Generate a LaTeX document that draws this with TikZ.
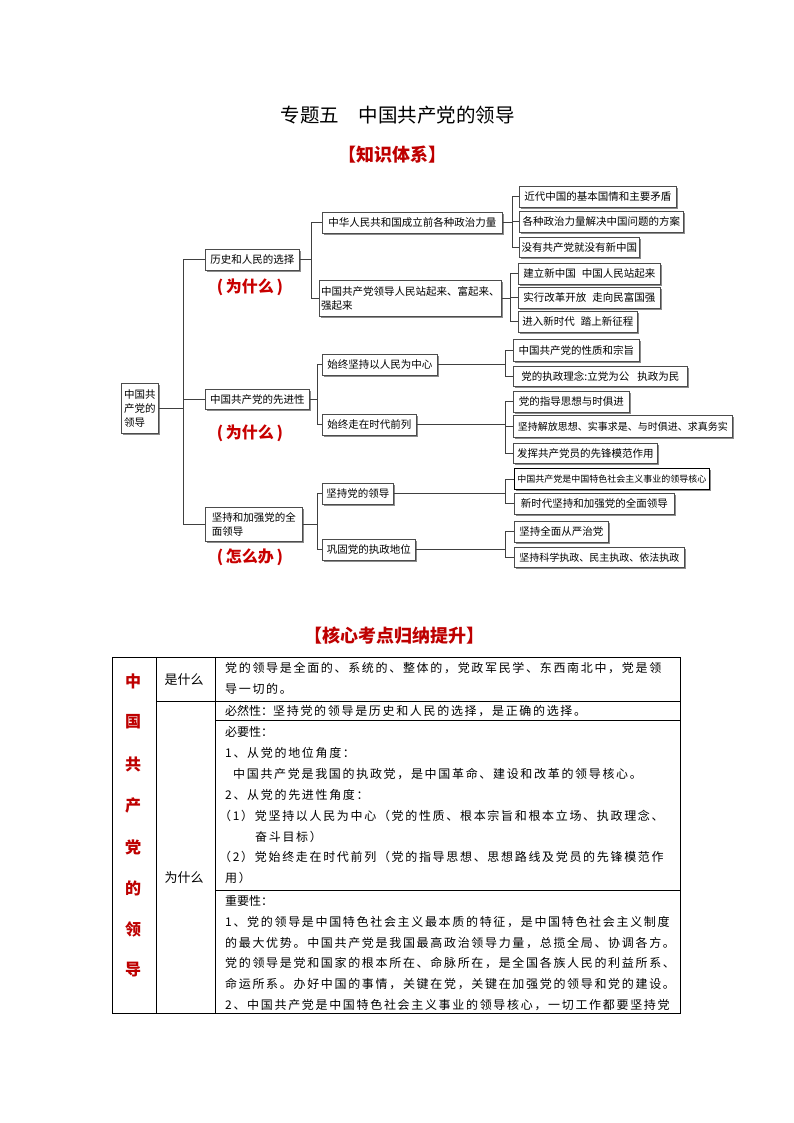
\documentclass[tikz,border=0pt]{standalone}
\usepackage{fontspec}
\usetikzlibrary{shadows}
\setmainfont{Noto Sans CJK SC}
\newfontfamily\cjk{Noto Sans CJK SC}
\newfontfamily\kai{Noto Sans CJK SC}[LetterSpace=14]
\definecolor{tred}{RGB}{200,0,0}
\definecolor{dred}{RGB}{190,0,0}
\newcommand\tf{\cjk\fontsize{10.5}{14}\selectfont}
\newcommand\lab[1]{{\cjk\fontsize{12}{21}\selectfont #1}}
\begin{document}
\begin{tikzpicture}[x=1pt,y=-1pt,
  box/.style={draw=black!70, line width=0.6pt, fill=white, inner sep=0pt, font=\tf,
    anchor=north west, drop shadow={shadow xshift=1.3pt, shadow yshift=-1.3pt, fill=black!45, opacity=1}},
  conn/.style={draw=black!75, line width=0.7pt},
  redq/.style={text=tred, font=\cjk\bfseries\fontsize{16}{18}\selectfont},
  hdr/.style={text=dred, font=\cjk\bfseries\fontsize{18}{20}\selectfont},
  tbl/.style={draw=black, line width=0.8pt},
  cell/.style={anchor=base west, inner sep=0pt, font=\kai\fontsize{12}{21}\selectfont},
  side/.style={text=dred, font=\cjk\bfseries\fontsize{16}{18}\selectfont}]
\useasboundingbox (0,0) rectangle (794,1123);
\fill[white] (0,0) rectangle (794,1123);

% titles
\node[font=\cjk\fontsize{19.5}{21}\selectfont] (title) at (397.5,115) {专题五\hspace{1em}中国共产党的领导};
\node[hdr] (h1) at (392,155) {【知识体系】};

% tree boxes
\node[box, minimum width=37pt, minimum height=50pt, align=left] (root) at (121,383) {中国共\\产党的\\领导};
\node[box, minimum width=94pt, minimum height=21pt] (A) at (205,249) {历史和人民的选择};
\node[box, minimum width=104pt, minimum height=20pt] (B) at (205,389) {中国共产党的先进性};
\node[box, minimum width=97pt, minimum height=34pt, align=left] (C) at (205,507) {坚持和加强党的全\\面领导};

\node[redq] (q1) at (250,287) {(\,为什么\,)};
\node[redq] (q2) at (250,433) {(\,为什么\,)};
\node[redq] (q3) at (250,557) {(\,怎么办\,)};

\node[box, minimum width=180pt, minimum height=21pt] (A1) at (322,212) {中华人民共和国成立前各种政治力量};
\node[box, minimum width=182pt, minimum height=36pt, align=left] (A2) at (319,280) {中国共产党领导人民站起来、富起来、\\强起来};
\node[box, minimum width=115pt, minimum height=21pt] (B1) at (322,354) {始终坚持以人民为中心};
\node[box, minimum width=94pt, minimum height=21pt] (B2) at (322,414) {始终走在时代前列};
\node[box, minimum width=71pt, minimum height=21pt] (C1) at (322,483) {坚持党的领导};
\node[box, minimum width=93pt, minimum height=21pt] (C2) at (322,539) {巩固党的执政地位};

\node[box, minimum width=157pt, minimum height=21pt] (A1a) at (519,186) {近代中国的基本国情和主要矛盾};
\node[box, minimum width=164pt, minimum height=21pt] (A1b) at (519,211) {各种政治力量解决中国问题的方案};
\node[box, minimum width=120pt, minimum height=20pt] (A1c) at (519,237) {没有共产党就没有新中国};
\node[box, minimum width=142pt, minimum height=21pt] (A2a) at (518,263) {建立新中国\hspace{6pt}中国人民站起来};
\node[box, minimum width=142pt, minimum height=21pt] (A2b) at (518,287) {实行改革开放\hspace{6pt}走向民富国强};
\node[box, minimum width=119pt, minimum height=21pt] (A2c) at (518,311) {进入新时代\hspace{6pt}踏上新征程};
\node[box, minimum width=126pt, minimum height=22pt] (B1a) at (513,339) {中国共产党的性质和宗旨};
\node[box, minimum width=174pt, minimum height=20pt] (B1b) at (513,366) {党的执政理念:立党为公\hspace{8pt}执政为民};
\node[box, minimum width=116pt, minimum height=21pt] (B2a) at (513,391) {党的指导思想与时俱进};
\node[box, minimum width=219pt, minimum height=22pt, font=\cjk\fontsize{10}{12}\selectfont] (B2b) at (513,415) {坚持解放思想、实事求是、与时俱进、求真务实};
\node[box, minimum width=144pt, minimum height=20pt] (B2c) at (513,443) {发挥共产党员的先锋模范作用};
\node[box, draw=black, line width=0.9pt, minimum width=195pt, minimum height=21pt, font=\cjk\fontsize{9}{11}\selectfont] (C1a) at (514,468) {中国共产党是中国特色社会主义事业的领导核心};
\node[box, minimum width=160pt, minimum height=21pt] (C1b) at (514,493) {新时代坚持和加强党的全面领导};
\node[box, minimum width=94pt, minimum height=21pt] (C2a) at (514,521) {坚持全面从严治党};
\node[box, minimum width=170pt, minimum height=20pt, font=\cjk\fontsize{10}{12}\selectfont] (C2b) at (514,547) {坚持科学执政、民主执政、依法执政};

% connectors
\coordinate (tx) at (183,0);
\coordinate (lx) at (505,0);
\draw[conn] (root.east) -- (root.east -| tx);
\draw[conn] (A.west -| tx) |- (C.west);
\draw[conn] (A.west -| tx) -- (A.west);
\draw[conn] (B.west -| tx) -- (B.west);

\draw[conn] (A.east) -- ++(12,0) coordinate (ja);
\draw[conn] (ja) |- (A1.west);
\draw[conn] (ja) |- (A2.west);
\draw[conn] (B.east) -- ++(8,0) coordinate (jb);
\draw[conn] (jb) |- (B1.west);
\draw[conn] (jb) |- (B2.west);
\draw[conn] (C.east) -- ++(15,0) coordinate (jc);
\draw[conn] (jc) |- (C1.west);
\draw[conn] (jc) |- (C2.west);

\draw[conn] (A1.east) -- ++(10,0) coordinate (ja1);
\draw[conn] (ja1) |- (A1a.west);
\draw[conn] (ja1) |- (A1b.west);
\draw[conn] (ja1) |- (A1c.west);
\draw[conn] (A2.east) -- ++(9,0) coordinate (ja2);
\draw[conn] (ja2) |- (A2a.west);
\draw[conn] (ja2) |- (A2b.west);
\draw[conn] (ja2) |- (A2c.west);
\draw[conn] (B1.east) -- (B1.east -| lx) coordinate (jb1);
\draw[conn] (jb1) |- (B1a.west);
\draw[conn] (jb1) |- (B1b.west);
\draw[conn] (B2.east) -- (B2.east -| lx) coordinate (jb2);
\draw[conn] (jb2) |- (B2a.west);
\draw[conn] (jb2) |- (B2b.west);
\draw[conn] (jb2) |- (B2c.west);
\draw[conn] (C1.east) -- (C1.east -| lx) coordinate (jc1);
\draw[conn] (jc1) |- (C1a.west);
\draw[conn] (jc1) |- (C1b.west);
\draw[conn] (C2.east) -- (C2.east -| lx) coordinate (jc2);
\draw[conn] (jc2) |- (C2a.west);
\draw[conn] (jc2) |- (C2b.west);

% second header
\node[hdr] (h2) at (394,636) {【核心考点归纳提升】};

% table grid
\draw[tbl] (112,657) rectangle (680,1013);
\draw[tbl] (156,657) -- (156,1013);
\draw[tbl] (215,657) -- (215,1013);
\draw[tbl] (156,701) -- (680,701);
\draw[tbl] (215,720) -- (680,720);
\draw[tbl] (215,890) -- (680,890);

% left column
\node[side] (s1) at (133,681) {中};
\node[side] (s2) at (133,722) {国};
\node[side] (s3) at (133,764) {共};
\node[side] (s4) at (133,805) {产};
\node[side] (s5) at (133,847) {党};
\node[side] (s6) at (133,888) {的};
\node[side] (s7) at (133,929) {领};
\node[side] (s8) at (133,970) {导};

\node[font=\cjk\fontsize{13}{15}\selectfont] (k1) at (184,680) {是什么};
\node[font=\cjk\fontsize{13}{15}\selectfont] (k2) at (184,878) {为什么};

% cells
\node[cell] (t1) at (225,672) {\vtop{\baselineskip=21pt
  \hbox{党的领导是全面的、系统的、整体的，党政军民学、东西南北中，党是领}
  \hbox{导一切的。}}};
\node[cell] (t2) at (225,715.5) {\hbox{\lab{必然性：}坚持党的领导是历史和人民的选择，是正确的选择。}};
\node[cell] (t3) at (225,736.5) {\vtop{\baselineskip=20.9pt
  \hbox{\lab{必要性：}}
  \hbox{1、从党的地位角度：}
  \hbox{\hspace{8pt}中国共产党是我国的执政党，是中国革命、建设和改革的领导核心。}
  \hbox{2、从党的先进性角度：}
  \hbox{\kern-6pt（1）党坚持以人民为中心（党的性质、根本宗旨和根本立场、执政理念、}
  \hbox{\hspace{30pt}奋斗目标）}
  \hbox{\kern-6pt（2）党始终走在时代前列（党的指导思想、思想路线及党员的先锋模范作}
  \hbox{用）}}};
\node[cell] (t4) at (225,905.5) {\vtop{\baselineskip=20.8pt
  \hbox{\lab{重要性：}}
  \hbox{1、党的领导是中国特色社会主义最本质的特征，是中国特色社会主义制度}
  \hbox{的最大优势。中国共产党是我国最高政治领导力量，总揽全局、协调各方。}
  \hbox{党的领导是党和国家的根本所在、命脉所在，是全国各族人民的利益所系、}
  \hbox{命运所系。办好中国的事情，关键在党，关键在加强党的领导和党的建设。}
  \hbox{2、中国共产党是中国特色社会主义事业的领导核心，一切工作都要坚持党}}};
\end{tikzpicture}
\end{document}
